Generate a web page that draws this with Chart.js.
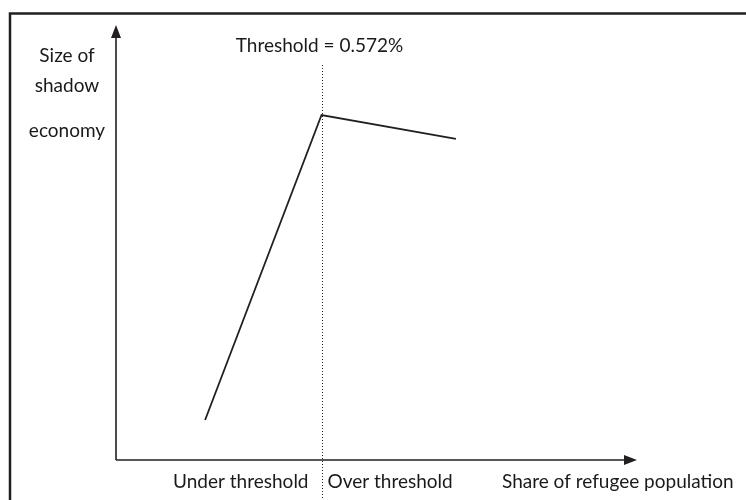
<!DOCTYPE html>
<html>
<head>
<meta charset="utf-8">
<script src="https://cdn.jsdelivr.net/npm/chart.js@4"></script>
<style>
  body { margin: 0; background: #fff; }
  canvas { display: block; }
</style>
</head>
<body>
<canvas id="chart" width="746" height="500"></canvas>
<script>
  // conceptual curve: share of refugee population vs size of shadow economy
  const shareValues = [0.248, 0.572, 0.946];
  const shadowValues = [9.2, 79.3, 73.8];
  const threshold = 0.572;
  const thresholdLabel = "Threshold = 0.572%";
  const xLabels = ["Under threshold", "Over threshold", "Share of refugee population"];
  const yLabelLines = ["Size of", "shadow", "economy"];

  const ink = "#231f20";
  const font = "19px Lato, sans-serif";

  const diagramPlugin = {
    id: "diagram",
    afterDraw(chart) {
      const ctx = chart.ctx;
      const xs = chart.scales.x;
      const ys = chart.scales.y;
      const area = chart.chartArea;
      const x0 = xs.getPixelForValue(0);
      const y0 = ys.getPixelForValue(0);
      const tx = Math.round(xs.getPixelForValue(threshold)) + 0.5;

      ctx.save();
      // frame
      ctx.strokeStyle = ink;
      ctx.lineWidth = 2.5;
      ctx.beginPath();
      ctx.moveTo(10, 520);
      ctx.lineTo(10, 13.5);
      ctx.lineTo(760, 13.5);
      ctx.stroke();

      // axes with arrows
      ctx.lineWidth = 1.6;
      ctx.beginPath();
      ctx.moveTo(x0, y0);
      ctx.lineTo(x0, area.top + 10);
      ctx.moveTo(x0, y0);
      ctx.lineTo(area.right - 10, y0);
      ctx.stroke();
      ctx.fillStyle = ink;
      ctx.beginPath();
      ctx.moveTo(x0, area.top);
      ctx.lineTo(x0 - 5, area.top + 13);
      ctx.lineTo(x0 + 5, area.top + 13);
      ctx.closePath();
      ctx.fill();
      ctx.beginPath();
      ctx.moveTo(area.right, y0);
      ctx.lineTo(area.right - 13, y0 - 5);
      ctx.lineTo(area.right - 13, y0 + 5);
      ctx.closePath();
      ctx.fill();

      // dotted threshold line
      ctx.lineWidth = 1;
      ctx.setLineDash([1, 2]);
      ctx.beginPath();
      ctx.moveTo(tx, ys.getPixelForValue(90.8));
      ctx.lineTo(tx, 500);
      ctx.stroke();
      ctx.setLineDash([]);

      // texts
      ctx.font = font;
      ctx.fillStyle = "#1a1a1a";
      ctx.textBaseline = "middle";
      ctx.textAlign = "center";
      ctx.fillText(thresholdLabel, tx - 3, 46);
      ctx.fillText(yLabelLines[0], 67, 56);
      ctx.fillText(yLabelLines[1], 67, 86);
      ctx.fillText(yLabelLines[2], 67, 131);
      ctx.textAlign = "right";
      ctx.fillText(xLabels[0], tx - 14, 482);
      ctx.textAlign = "left";
      ctx.fillText(xLabels[1], tx + 5, 482);
      ctx.fillText(xLabels[2], 502, 482);
      ctx.restore();
    }
  };

  new Chart(document.getElementById("chart"), {
    type: "line",
    data: {
      datasets: [
        {
          data: shareValues.map((v, i) => ({ x: v, y: shadowValues[i] })),
          borderColor: ink,
          borderWidth: 1.8,
          pointRadius: 0,
          fill: false,
          tension: 0,
        },
      ],
    },
    options: {
      responsive: false,
      animation: false,
      layout: { padding: { left: 116, right: 109, top: 25, bottom: 40 } },
      plugins: { legend: { display: false }, tooltip: { enabled: false } },
      scales: {
        x: { type: "linear", min: 0, max: 1.45, display: false },
        y: { type: "linear", min: 0, max: 100, display: false },
      },
    },
    plugins: [diagramPlugin],
  });
</script>
</body>
</html>
